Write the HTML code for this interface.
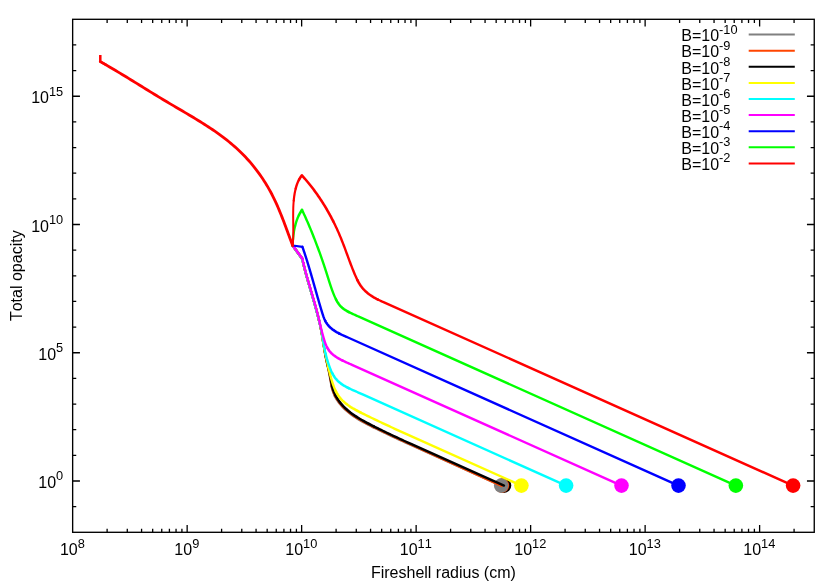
<!DOCTYPE html>
<html lang="en"><head><meta charset="utf-8"><title>Total opacity vs fireshell radius</title>
<style>html,body{margin:0;padding:0;background:#fff}body{width:830px;height:581px;overflow:hidden}svg{display:block;will-change:transform}text{font-family:"Liberation Sans",sans-serif;fill:#000;font-kerning:none}</style></head><body>
<svg width="830" height="581" viewBox="0 0 830 581">
<rect width="830" height="581" fill="#fff"/>
<path d="M107.12,532.3v-3.6M107.12,19.3v3.6M127.28,532.3v-3.6M127.28,19.3v3.6M141.58,532.3v-3.6M141.58,19.3v3.6M152.68,532.3v-3.6M152.68,19.3v3.6M161.74,532.3v-3.6M161.74,19.3v3.6M169.41,532.3v-3.6M169.41,19.3v3.6M176.05,532.3v-3.6M176.05,19.3v3.6M181.91,532.3v-3.6M181.91,19.3v3.6M187.15,532.3v-7.3M187.15,19.3v7.3M221.61,532.3v-3.6M221.61,19.3v3.6M241.77,532.3v-3.6M241.77,19.3v3.6M256.08,532.3v-3.6M256.08,19.3v3.6M267.17,532.3v-3.6M267.17,19.3v3.6M276.24,532.3v-3.6M276.24,19.3v3.6M283.91,532.3v-3.6M283.91,19.3v3.6M290.54,532.3v-3.6M290.54,19.3v3.6M296.40,532.3v-3.6M296.40,19.3v3.6M301.64,532.3v-7.3M301.64,19.3v7.3M336.11,532.3v-3.6M336.11,19.3v3.6M356.27,532.3v-3.6M356.27,19.3v3.6M370.57,532.3v-3.6M370.57,19.3v3.6M381.67,532.3v-3.6M381.67,19.3v3.6M390.74,532.3v-3.6M390.74,19.3v3.6M398.40,532.3v-3.6M398.40,19.3v3.6M405.04,532.3v-3.6M405.04,19.3v3.6M410.90,532.3v-3.6M410.90,19.3v3.6M416.14,532.3v-7.3M416.14,19.3v7.3M450.60,532.3v-3.6M450.60,19.3v3.6M470.76,532.3v-3.6M470.76,19.3v3.6M485.07,532.3v-3.6M485.07,19.3v3.6M496.16,532.3v-3.6M496.16,19.3v3.6M505.23,532.3v-3.6M505.23,19.3v3.6M512.90,532.3v-3.6M512.90,19.3v3.6M519.54,532.3v-3.6M519.54,19.3v3.6M525.39,532.3v-3.6M525.39,19.3v3.6M530.63,532.3v-7.3M530.63,19.3v7.3M565.10,532.3v-3.6M565.10,19.3v3.6M585.26,532.3v-3.6M585.26,19.3v3.6M599.56,532.3v-3.6M599.56,19.3v3.6M610.66,532.3v-3.6M610.66,19.3v3.6M619.73,532.3v-3.6M619.73,19.3v3.6M627.39,532.3v-3.6M627.39,19.3v3.6M634.03,532.3v-3.6M634.03,19.3v3.6M639.89,532.3v-3.6M639.89,19.3v3.6M645.13,532.3v-7.3M645.13,19.3v7.3M679.59,532.3v-3.6M679.59,19.3v3.6M699.75,532.3v-3.6M699.75,19.3v3.6M714.06,532.3v-3.6M714.06,19.3v3.6M725.16,532.3v-3.6M725.16,19.3v3.6M734.22,532.3v-3.6M734.22,19.3v3.6M741.89,532.3v-3.6M741.89,19.3v3.6M748.53,532.3v-3.6M748.53,19.3v3.6M754.38,532.3v-3.6M754.38,19.3v3.6M759.62,532.3v-7.3M759.62,19.3v7.3M794.09,532.3v-3.6M794.09,19.3v3.6M72.65,506.65h3.6M814.25,506.65h-3.6M72.65,481.00h7.3M814.25,481.00h-7.3M72.65,455.35h3.6M814.25,455.35h-3.6M72.65,429.70h3.6M814.25,429.70h-3.6M72.65,404.05h3.6M814.25,404.05h-3.6M72.65,378.40h3.6M814.25,378.40h-3.6M72.65,352.75h7.3M814.25,352.75h-7.3M72.65,327.10h3.6M814.25,327.10h-3.6M72.65,301.45h3.6M814.25,301.45h-3.6M72.65,275.80h3.6M814.25,275.80h-3.6M72.65,250.15h3.6M814.25,250.15h-3.6M72.65,224.50h7.3M814.25,224.50h-7.3M72.65,198.85h3.6M814.25,198.85h-3.6M72.65,173.20h3.6M814.25,173.20h-3.6M72.65,147.55h3.6M814.25,147.55h-3.6M72.65,121.90h3.6M814.25,121.90h-3.6M72.65,96.25h7.3M814.25,96.25h-7.3M72.65,70.60h3.6M814.25,70.60h-3.6M72.65,44.95h3.6M814.25,44.95h-3.6" stroke="#000" stroke-width="1.3" fill="none"/>
<g>
<circle cx="793.1" cy="485.6" r="7.3" fill="#ff0000"/>
<circle cx="735.85" cy="485.6" r="7.3" fill="#00ff00"/>
<circle cx="678.5" cy="485.6" r="7.3" fill="#0000ff"/>
<circle cx="621.5" cy="485.6" r="7.3" fill="#ff00ff"/>
<circle cx="566.1" cy="485.6" r="7.3" fill="#00ffff"/>
<circle cx="521.4" cy="485.6" r="7.3" fill="#ffff00"/>
<circle cx="504.0" cy="485.6" r="7.3" fill="#000000"/>
<circle cx="501.9" cy="485.6" r="7.3" fill="#ff4500"/>
<circle cx="501.2" cy="485.6" r="7.3" fill="#808080"/>
</g>
<g fill="none" stroke-linejoin="round" stroke-linecap="round">
<path stroke="#808080" stroke-width="2.6" d="M292.65,245.50 L302.20,258.70"/>
<path stroke="#808080" stroke-width="2.2" d="M302.20,258.70 L302.63,260.60 L303.07,262.50"/>
<path stroke="#808080" stroke-width="2.4" d="M303.07,262.50 L303.52,264.40 L303.99,266.29 L304.47,268.18 L304.96,270.07 L305.46,271.96 L305.97,273.84 L306.49,275.72 L307.01,277.60 L307.54,279.48 L308.08,281.36 L308.62,283.24 L309.17,285.11 L309.72,286.99 L310.27,288.86 L310.82,290.73 L311.37,292.61 L311.93,294.48 L312.48,296.35 L313.03,298.23 L313.57,300.10 L314.11,301.98 L314.65,303.85 L315.18,305.73 L315.70,307.61 L316.22,309.49 L316.72,311.37 L317.22,313.26 L317.71,315.15 L318.18,317.04 L318.65,318.93 L319.10,320.82"/>
<path stroke="#808080" stroke-width="2.2" d="M319.10,320.82 L319.54,322.72 L319.96,324.62 L320.36,326.53 L320.75,328.43 L321.13,330.35 L321.48,332.26 L321.82,334.18 L322.15,336.10 L322.47,338.03 L322.79,339.95 L323.10,341.88 L323.41,343.80 L323.72,345.73 L324.04,347.65 L324.37,349.58 L324.69,351.52 L325.02,353.47 L325.36,355.42 L325.73,357.37 L326.11,359.30 L326.52,361.24 L326.95,363.17 L327.39,365.09 L327.83,367.02 L328.25,368.96 L328.66,370.90 L329.05,372.84 L329.43,374.79 L329.79,376.75 L330.14,378.71 L330.48,380.67 L330.82,382.64 L331.18,384.60 L331.59,386.55"/>
<path stroke="#808080" stroke-width="2.4" d="M331.59,386.55 L332.05,388.47 L332.60,390.37 L333.24,392.23 L333.98,394.06 L334.80,395.85"/>
<path stroke="#808080" stroke-width="2.6" d="M334.80,395.85 L335.73,397.56 L336.73,399.23 L337.80,400.86 L338.93,402.44 L340.13,403.97 L341.38,405.44 L342.68,406.87 L344.02,408.25 L345.41,409.58 L346.85,410.86 L348.32,412.10 L349.83,413.31 L351.38,414.47 L352.96,415.60 L354.57,416.70 L356.20,417.76 L357.86,418.80 L359.54,419.81 L361.24,420.80 L362.96,421.77 L364.68,422.72 L366.43,423.65 L368.17,424.56 L369.93,425.47 L371.69,426.36 L373.45,427.25"/>
<path stroke="#808080" stroke-width="2.4" d="M373.45,427.25 L375.21,428.13 L376.97,429.00 L378.73,429.87 L380.49,430.73 L382.25,431.58 L384.01,432.43 L385.77,433.28 L387.53,434.12 L389.29,434.96 L391.05,435.79 L392.81,436.62 L394.57,437.44 L396.34,438.26 L398.10,439.08 L399.87,439.90 L401.64,440.71 L403.41,441.52 L405.18,442.32 L406.95,443.13 L408.72,443.93 L410.49,444.73 L501.20,485.60"/>
<path stroke="#ff4500" stroke-width="2.6" d="M292.65,245.50 L302.20,258.70"/>
<path stroke="#ff4500" stroke-width="2.2" d="M302.20,258.70 L302.63,260.60 L303.07,262.50"/>
<path stroke="#ff4500" stroke-width="2.4" d="M303.07,262.50 L303.52,264.40 L303.99,266.29 L304.47,268.18 L304.96,270.07 L305.46,271.96 L305.97,273.84 L306.49,275.72 L307.01,277.60 L307.54,279.48 L308.08,281.36 L308.62,283.24 L309.17,285.11 L309.72,286.99 L310.27,288.86 L310.82,290.73 L311.37,292.61 L311.93,294.48 L312.48,296.35 L313.03,298.23 L313.57,300.10 L314.11,301.98 L314.65,303.85 L315.18,305.73 L315.70,307.61 L316.22,309.49 L316.72,311.37 L317.22,313.26 L317.71,315.15 L318.18,317.04 L318.65,318.93 L319.10,320.82"/>
<path stroke="#ff4500" stroke-width="2.2" d="M319.10,320.82 L319.54,322.72 L319.96,324.62 L320.36,326.53 L320.75,328.43 L321.13,330.35 L321.48,332.26 L321.82,334.18 L322.15,336.10 L322.47,338.03 L322.79,339.95 L323.10,341.88 L323.41,343.80 L323.72,345.73 L324.04,347.65 L324.37,349.58 L324.70,351.51 L325.04,353.45 L325.39,355.38 L325.77,357.31 L326.16,359.23 L326.58,361.15 L327.02,363.07 L327.47,364.98 L327.92,366.89 L328.36,368.81 L328.77,370.74 L329.18,372.67 L329.56,374.60 L329.94,376.54 L330.30,378.49 L330.64,380.44 L331.00,382.39 L331.37,384.34 L331.79,386.27"/>
<path stroke="#ff4500" stroke-width="2.4" d="M331.79,386.27 L332.26,388.18 L332.82,390.06 L333.48,391.91 L334.22,393.72 L335.05,395.50"/>
<path stroke="#ff4500" stroke-width="2.6" d="M335.05,395.50 L335.98,397.21 L336.98,398.88 L338.05,400.51 L339.18,402.09 L340.38,403.62 L341.63,405.09 L342.93,406.52 L344.27,407.90 L345.66,409.23 L347.10,410.51 L348.57,411.75 L350.08,412.96 L351.63,414.12 L353.21,415.25 L354.82,416.35 L356.45,417.41 L358.11,418.45 L359.79,419.46 L361.49,420.45 L363.21,421.42 L364.93,422.37 L366.68,423.30 L368.42,424.21 L370.18,425.12 L371.94,426.01 L373.70,426.90"/>
<path stroke="#ff4500" stroke-width="2.4" d="M373.70,426.90 L375.46,427.78 L377.22,428.65 L378.98,429.52 L380.74,430.38 L382.50,431.23 L384.26,432.08 L386.02,432.93 L387.78,433.77 L389.54,434.61 L391.30,435.44 L393.06,436.27 L394.82,437.09 L396.59,437.91 L398.35,438.73 L400.12,439.55 L401.89,440.36 L403.66,441.17 L405.43,441.97 L407.20,442.78 L408.97,443.58 L410.74,444.38 L501.70,486.00"/>
<path stroke="#000000" stroke-width="2.6" d="M292.65,245.50 L302.20,258.70"/>
<path stroke="#000000" stroke-width="2.2" d="M302.20,258.70 L302.63,260.60 L303.07,262.50"/>
<path stroke="#000000" stroke-width="2.4" d="M303.07,262.50 L303.52,264.40 L303.99,266.29 L304.47,268.18 L304.96,270.07 L305.46,271.96 L305.97,273.84 L306.49,275.72 L307.01,277.60 L307.54,279.48 L308.08,281.36 L308.62,283.24 L309.17,285.11 L309.72,286.99 L310.27,288.86 L310.82,290.73 L311.37,292.61 L311.93,294.48 L312.48,296.35 L313.03,298.23 L313.57,300.10 L314.11,301.98 L314.65,303.85 L315.18,305.73 L315.70,307.61 L316.22,309.49 L316.72,311.37 L317.22,313.26 L317.71,315.15 L318.18,317.04 L318.65,318.93 L319.10,320.82"/>
<path stroke="#000000" stroke-width="2.2" d="M319.10,320.82 L319.54,322.72 L319.96,324.62 L320.36,326.53 L320.75,328.43 L321.13,330.35 L321.48,332.26 L321.82,334.18 L322.15,336.10 L322.47,338.03 L322.79,339.95 L323.10,341.88 L323.41,343.80 L323.72,345.73 L324.04,347.65 L324.37,349.58 L324.71,351.50 L325.06,353.41 L325.42,355.33 L325.81,357.24 L326.21,359.14 L326.64,361.04 L327.09,362.94"/>
<path stroke="#000000" stroke-width="2.4" d="M327.09,362.94 L327.55,364.83 L328.01,366.73"/>
<path stroke="#000000" stroke-width="2.2" d="M328.01,366.73 L328.46,368.63 L328.89,370.53 L329.30,372.44 L329.70,374.36 L330.08,376.28 L330.45,378.21 L330.81,380.14 L331.17,382.07 L331.56,384.00 L331.99,385.91"/>
<path stroke="#000000" stroke-width="2.4" d="M331.99,385.91 L332.47,387.80 L333.04,389.66 L333.71,391.49 L334.46,393.29 L335.30,395.05"/>
<path stroke="#000000" stroke-width="2.6" d="M335.30,395.05 L336.23,396.76 L337.23,398.43 L338.30,400.06 L339.43,401.64 L340.63,403.17 L341.88,404.64 L343.18,406.07 L344.52,407.45 L345.91,408.78 L347.35,410.06 L348.82,411.30 L350.33,412.51 L351.88,413.67 L353.46,414.80 L355.07,415.90 L356.70,416.96 L358.36,418.00 L360.04,419.01 L361.74,420.00 L363.46,420.97 L365.18,421.92 L366.93,422.85 L368.67,423.76 L370.43,424.67 L372.19,425.56 L373.95,426.45"/>
<path stroke="#000000" stroke-width="2.4" d="M373.95,426.45 L375.71,427.33 L377.47,428.20 L379.23,429.07 L380.99,429.93 L382.75,430.78 L384.51,431.63 L386.27,432.48 L388.03,433.32 L389.79,434.16 L391.55,434.99 L393.31,435.82 L395.07,436.64 L396.84,437.46 L398.60,438.28 L400.37,439.10 L402.14,439.91 L403.91,440.72 L405.68,441.52 L407.45,442.33 L409.22,443.13 L410.99,443.93 L504.00,485.60"/>
<path stroke="#ffff00" stroke-width="2.6" d="M292.65,245.50 L302.20,258.70"/>
<path stroke="#ffff00" stroke-width="2.2" d="M302.20,258.70 L302.61,260.51 L303.03,262.31"/>
<path stroke="#ffff00" stroke-width="2.4" d="M303.03,262.31 L303.46,264.11 L303.90,265.91 L304.35,267.71 L304.81,269.50 L305.28,271.29 L305.76,273.08 L306.25,274.87 L306.74,276.66 L307.24,278.44 L307.75,280.23 L308.26,282.01 L308.77,283.79 L309.29,285.57 L309.81,287.35 L310.33,289.13 L310.85,290.91 L311.38,292.69 L311.90,294.47 L312.43,296.25 L312.95,298.03 L313.47,299.81 L313.98,301.59 L314.50,303.37 L315.00,305.15 L315.51,306.93 L316.01,308.72 L316.50,310.50 L316.98,312.29 L317.46,314.08 L317.93,315.87 L318.38,317.66 L318.83,319.46 L319.26,321.25"/>
<path stroke="#ffff00" stroke-width="2.2" d="M319.26,321.25 L319.68,323.06 L320.08,324.86 L320.46,326.67 L320.82,328.49 L321.16,330.31 L321.47,332.13 L321.77,333.96 L322.06,335.80 L322.34,337.63 L322.62,339.46 L322.90,341.30 L323.20,343.13 L323.51,344.96 L323.84,346.78 L324.18,348.60 L324.53,350.42 L324.90,352.24 L325.27,354.05 L325.66,355.85 L326.05,357.66 L326.45,359.46 L326.85,361.25 L327.26,363.05 L327.67,364.84 L328.10,366.63"/>
<path stroke="#ffff00" stroke-width="2.4" d="M328.10,366.63 L328.53,368.42 L328.97,370.21 L329.43,372.00 L329.90,373.80 L330.38,375.60 L330.88,377.40 L331.40,379.21 L331.94,381.03 L332.51,382.84 L333.12,384.64 L333.76,386.42 L334.45,388.17 L335.19,389.88 L335.98,391.56"/>
<path stroke="#ffff00" stroke-width="2.6" d="M335.98,391.56 L336.84,393.18 L337.77,394.75 L338.78,396.25 L339.86,397.68 L341.02,399.05 L342.25,400.35 L343.54,401.59 L344.89,402.78 L346.29,403.91 L347.75,405.00 L349.25,406.05 L350.79,407.06 L352.37,408.03 L353.98,408.97 L355.61,409.88 L357.27,410.77 L358.94,411.64 L360.62,412.49"/>
<path stroke="#ffff00" stroke-width="2.4" d="M360.62,412.49 L362.31,413.34 L364.00,414.17 L365.69,415.00 L367.37,415.83 L369.06,416.65 L370.74,417.47 L372.42,418.28 L374.10,419.09 L375.78,419.89 L377.46,420.69 L379.14,421.49 L380.82,422.29 L382.49,423.08 L384.17,423.87 L385.84,424.65 L387.52,425.43 L389.20,426.21 L390.87,426.99 L392.55,427.76 L394.23,428.54 L395.91,429.31 L397.58,430.08 L399.26,430.84 L400.94,431.61 L402.63,432.37 L404.31,433.14 L405.99,433.89 L521.40,485.60"/>
<path stroke="#00ffff" stroke-width="2.6" d="M292.65,245.50 L302.20,258.70"/>
<path stroke="#00ffff" stroke-width="2.2" d="M302.20,258.70 L302.50,259.99 L302.80,261.27"/>
<path stroke="#00ffff" stroke-width="2.4" d="M302.80,261.27 L303.11,262.56 L303.43,263.84 L303.74,265.12 L304.06,266.41 L304.39,267.69 L304.72,268.96 L305.05,270.24 L305.39,271.52 L305.73,272.79 L306.07,274.07 L306.42,275.34 L306.77,276.62 L307.12,277.89 L307.47,279.16 L307.83,280.43 L308.18,281.70 L308.54,282.97 L308.91,284.24 L309.27,285.51 L309.63,286.78 L310.00,288.05 L310.36,289.32 L310.73,290.59 L311.09,291.86 L311.46,293.13 L311.83,294.40 L312.20,295.66 L312.56,296.93 L312.93,298.20 L313.30,299.47 L313.66,300.74 L314.03,302.01 L314.39,303.28 L314.75,304.55 L315.11,305.82 L315.47,307.09 L315.83,308.37 L316.18,309.64 L316.53,310.91 L316.88,312.19 L317.23,313.46 L317.58,314.74 L317.92,316.02 L318.25,317.30 L318.59,318.58 L318.92,319.86 L319.24,321.14 L319.55,322.42 L319.86,323.71"/>
<path stroke="#00ffff" stroke-width="2.2" d="M319.86,323.71 L320.16,324.99 L320.45,326.28 L320.73,327.57 L321.00,328.86 L321.25,330.15 L321.50,331.44 L321.73,332.73 L321.96,334.03 L322.18,335.32 L322.40,336.62 L322.61,337.92 L322.82,339.21 L323.04,340.51 L323.26,341.81 L323.48,343.11 L323.71,344.41 L323.95,345.71 L324.19,347.01 L324.45,348.30 L324.71,349.60 L324.98,350.89 L325.27,352.18 L325.56,353.48"/>
<path stroke="#00ffff" stroke-width="2.4" d="M325.56,353.48 L325.87,354.76 L326.19,356.05 L326.53,357.33 L326.87,358.61 L327.24,359.88 L327.62,361.16 L328.01,362.42 L328.42,363.69 L328.85,364.94 L329.30,366.20 L329.77,367.44 L330.26,368.68 L330.77,369.92 L331.30,371.14 L331.86,372.35 L332.45,373.53"/>
<path stroke="#00ffff" stroke-width="2.6" d="M332.45,373.53 L333.08,374.69 L333.75,375.82 L334.45,376.92 L335.20,377.97 L336.00,378.97 L336.85,379.93 L337.75,380.85 L338.69,381.72 L339.66,382.55 L340.68,383.35 L341.73,384.11 L342.81,384.84 L343.92,385.54 L345.05,386.21 L346.21,386.86 L347.38,387.48 L348.58,388.09"/>
<path stroke="#00ffff" stroke-width="2.4" d="M348.58,388.09 L349.78,388.68 L351.00,389.25 L352.23,389.81 L353.46,390.37 L354.69,390.91 L355.93,391.45 L357.16,391.99 L358.38,392.53 L359.60,393.07 L360.81,393.61 L362.02,394.15 L363.23,394.70 L566.10,485.60"/>
<path stroke="#ff00ff" stroke-width="2.6" d="M292.65,245.50 L302.35,258.60"/>
<path stroke="#ff00ff" stroke-width="2.2" d="M302.35,258.60 L302.57,259.62 L302.80,260.63 L303.03,261.64 L303.27,262.65 L303.51,263.66"/>
<path stroke="#ff00ff" stroke-width="2.4" d="M303.51,263.66 L303.75,264.67 L304.00,265.68 L304.25,266.69 L304.50,267.69 L304.76,268.70 L305.02,269.70 L305.28,270.70 L305.55,271.71 L305.82,272.71 L306.09,273.71 L306.36,274.71 L306.64,275.71 L306.92,276.71 L307.20,277.70 L307.48,278.70 L307.77,279.70 L308.05,280.69 L308.34,281.69 L308.63,282.69 L308.92,283.68 L309.21,284.68 L309.51,285.67 L309.80,286.66 L310.09,287.66 L310.39,288.65 L310.68,289.65 L310.98,290.64 L311.27,291.63 L311.57,292.63 L311.86,293.62 L312.15,294.61 L312.45,295.61 L312.74,296.60 L313.03,297.59 L313.32,298.59 L313.61,299.58 L313.90,300.58 L314.19,301.57 L314.48,302.57 L314.76,303.57 L315.04,304.56 L315.32,305.56 L315.60,306.56 L315.88,307.55 L316.15,308.55 L316.42,309.55 L316.69,310.55 L316.96,311.55 L317.22,312.56 L317.48,313.56 L317.74,314.56 L317.99,315.57 L318.24,316.57 L318.49,317.58 L318.74,318.59 L318.98,319.59 L319.22,320.60 L319.46,321.61 L319.70,322.62 L319.94,323.63 L320.19,324.64 L320.43,325.65 L320.67,326.66 L320.92,327.67 L321.17,328.69 L321.42,329.70 L321.67,330.71 L321.93,331.72 L322.19,332.73 L322.46,333.74 L322.73,334.75 L323.01,335.77 L323.29,336.78 L323.58,337.79 L323.88,338.80 L324.18,339.80 L324.49,340.81 L324.82,341.81 L325.17,342.80 L325.53,343.78 L325.91,344.74 L326.31,345.70 L326.74,346.63 L327.20,347.54"/>
<path stroke="#ff00ff" stroke-width="2.6" d="M327.20,347.54 L327.69,348.43 L328.21,349.30 L328.77,350.14 L329.37,350.95 L330.00,351.73 L330.68,352.47 L331.39,353.19 L332.13,353.88 L332.90,354.55 L333.69,355.19 L334.52,355.80 L335.36,356.40 L336.22,356.97 L337.09,357.53 L337.98,358.07 L338.88,358.59 L339.79,359.09 L340.70,359.59 L341.63,360.07 L342.55,360.53"/>
<path stroke="#ff00ff" stroke-width="2.4" d="M342.55,360.53 L343.49,360.99 L344.42,361.44 L345.36,361.88 L346.31,362.32 L347.25,362.75 L348.20,363.17 L349.15,363.59 L350.10,364.01 L351.06,364.43 L352.01,364.85 L621.50,485.60"/>
<path stroke="#0000ff" stroke-width="2.2" d="M292.65,245.50 L302.40,246.80"/>
<path stroke="#0000ff" stroke-width="2.4" d="M302.40,246.80 L302.70,247.65 L302.99,248.49 L303.28,249.34 L303.57,250.19 L303.86,251.04 L304.14,251.88 L304.43,252.73 L304.71,253.58 L304.99,254.43 L305.27,255.27 L305.54,256.12 L305.81,256.97 L306.09,257.82 L306.36,258.67 L306.62,259.51 L306.89,260.36 L307.16,261.21 L307.42,262.06 L307.68,262.91 L307.94,263.76 L308.20,264.60 L308.46,265.45 L308.72,266.30 L308.97,267.15 L309.23,268.00 L309.48,268.85 L309.73,269.70 L309.98,270.55 L310.23,271.40 L310.48,272.25 L310.73,273.10 L310.98,273.95 L311.22,274.80 L311.47,275.65 L311.71,276.50 L311.96,277.35 L312.20,278.20 L312.45,279.06 L312.69,279.91 L312.93,280.76 L313.18,281.61 L313.42,282.46 L313.66,283.32 L313.90,284.17 L314.14,285.02 L314.38,285.87 L314.62,286.73 L314.87,287.58 L315.11,288.43 L315.35,289.29 L315.59,290.14 L315.83,291.00 L316.07,291.85 L316.32,292.70 L316.56,293.56 L316.80,294.42 L317.05,295.27 L317.29,296.13 L317.53,296.98 L317.78,297.84 L318.03,298.69 L318.27,299.55 L318.52,300.41 L318.77,301.27 L319.02,302.12 L319.27,302.98 L319.52,303.84 L319.77,304.70 L320.02,305.56 L320.28,306.41 L320.53,307.27 L320.79,308.13 L321.05,308.99 L321.31,309.85 L321.57,310.71 L321.83,311.57 L322.09,312.43 L322.36,313.29 L322.63,314.15 L322.90,315.01 L323.19,315.86 L323.48,316.71 L323.79,317.55 L324.12,318.37 L324.46,319.19 L324.83,320.00 L325.21,320.79"/>
<path stroke="#0000ff" stroke-width="2.6" d="M325.21,320.79 L325.63,321.57 L326.07,322.33 L326.53,323.07 L327.03,323.80 L327.56,324.50 L328.11,325.19 L328.68,325.85 L329.28,326.50 L329.90,327.12 L330.53,327.73 L331.19,328.31 L331.86,328.87 L332.55,329.41 L333.25,329.94 L333.97,330.44 L334.70,330.93 L335.44,331.40 L336.19,331.85 L336.95,332.30 L337.72,332.72 L338.50,333.14 L339.29,333.55"/>
<path stroke="#0000ff" stroke-width="2.4" d="M339.29,333.55 L340.09,333.94 L340.89,334.33 L341.69,334.71 L342.50,335.09 L343.32,335.45 L344.13,335.82 L344.95,336.18 L345.77,336.54 L346.59,336.90 L347.41,337.25 L678.50,485.60"/>
<path stroke="#00ff00" stroke-width="2.0" d="M292.65,245.50 L292.77,243.56 L292.90,241.62 L293.06,239.66"/>
<path stroke="#00ff00" stroke-width="2.2" d="M293.06,239.66 L293.24,237.71 L293.45,235.75 L293.70,233.79 L293.98,231.84 L294.31,229.89 L294.68,227.96 L295.11,226.04"/>
<path stroke="#00ff00" stroke-width="2.4" d="M295.11,226.04 L295.59,224.13 L296.13,222.25 L296.74,220.39 L297.42,218.56 L298.17,216.76 L299.00,214.99"/>
<path stroke="#00ff00" stroke-width="2.6" d="M299.00,214.99 L299.91,213.25 L300.91,211.55 L302.00,209.90"/>
<path stroke="#00ff00" stroke-width="2.4" d="M302.00,209.90 L302.46,210.85 L302.91,211.79 L303.36,212.74 L303.80,213.69 L304.24,214.65 L304.68,215.60 L305.12,216.56 L305.55,217.52 L305.98,218.48 L306.41,219.44 L306.84,220.40 L307.26,221.37 L307.68,222.33 L308.10,223.30 L308.51,224.27 L308.93,225.24 L309.34,226.21 L309.74,227.18 L310.15,228.16 L310.55,229.13 L310.95,230.11 L311.35,231.08 L311.75,232.06 L312.14,233.04 L312.54,234.02 L312.93,234.99 L313.32,235.97 L313.70,236.95 L314.09,237.94 L314.47,238.92 L314.85,239.90 L315.23,240.88 L315.61,241.86 L315.99,242.84 L316.36,243.83 L316.73,244.81 L317.10,245.80 L317.47,246.78 L317.84,247.77 L318.21,248.75 L318.57,249.74 L318.93,250.72 L319.29,251.71 L319.65,252.70 L320.01,253.69 L320.36,254.68 L320.71,255.67 L321.06,256.66 L321.41,257.65 L321.76,258.64 L322.11,259.63 L322.45,260.62 L322.79,261.62 L323.13,262.61 L323.47,263.61 L323.80,264.60 L324.14,265.60 L324.47,266.60 L324.80,267.60 L325.13,268.60 L325.45,269.60 L325.78,270.60 L326.10,271.60 L326.42,272.60 L326.74,273.61 L327.06,274.61 L327.37,275.62 L327.68,276.62 L328.00,277.63 L328.31,278.64 L328.62,279.64 L328.94,280.65 L329.25,281.66 L329.57,282.66 L329.90,283.67 L330.22,284.68 L330.55,285.68 L330.89,286.68 L331.23,287.68 L331.58,288.68 L331.93,289.68 L332.30,290.68 L332.67,291.67 L333.05,292.66 L333.44,293.65 L333.84,294.64 L334.25,295.62 L334.67,296.60 L335.11,297.57 L335.57,298.53 L336.04,299.48"/>
<path stroke="#00ff00" stroke-width="2.6" d="M336.04,299.48 L336.53,300.42 L337.04,301.34 L337.58,302.23 L338.15,303.11 L338.74,303.96 L339.36,304.78 L340.02,305.57 L340.71,306.33 L341.44,307.05 L342.20,307.73 L342.99,308.39 L343.81,309.01 L344.66,309.61 L345.53,310.18 L346.42,310.73 L347.33,311.25 L348.26,311.76 L349.20,312.25"/>
<path stroke="#00ff00" stroke-width="2.4" d="M349.20,312.25 L350.15,312.73 L351.10,313.19 L352.06,313.64 L353.03,314.09 L353.99,314.52 L354.95,314.96 L355.92,315.39 L356.88,315.81 L357.84,316.24 L358.80,316.66 L735.85,485.60"/>
<path stroke="#ff0000" stroke-width="2.8" d="M100.30,61.60 L102.52,62.86 L104.72,64.13 L106.92,65.40 L109.12,66.68 L111.30,67.96 L113.48,69.25 L115.65,70.55 L117.82,71.85 L119.99,73.15 L122.14,74.45 L124.30,75.76 L126.45,77.07 L128.60,78.39 L130.74,79.70 L132.88,81.02 L135.03,82.34 L137.17,83.66 L139.30,84.98 L141.44,86.30 L143.58,87.62 L145.72,88.94 L147.86,90.26 L150.00,91.58 L152.14,92.90 L154.29,94.22 L156.44,95.53 L158.59,96.84 L160.75,98.15 L162.91,99.45 L165.07,100.75 L167.24,102.05 L169.42,103.34 L171.60,104.63 L173.78,105.92 L175.97,107.20 L178.16,108.49 L180.35,109.77 L182.54,111.06 L184.73,112.35 L186.92,113.64 L189.11,114.93 L191.29,116.24 L193.47,117.54 L195.64,118.86 L197.81,120.18 L199.97,121.51 L202.12,122.86 L204.27,124.21 L206.40,125.58 L208.52,126.96 L210.63,128.36 L212.73,129.77 L214.81,131.19 L216.88,132.64 L218.93,134.10 L220.97,135.58 L222.99,137.09 L224.99,138.61 L226.97,140.16 L228.93,141.73 L230.87,143.32 L232.78,144.95 L234.68,146.59 L236.55,148.27 L238.39,149.97 L240.21,151.71 L242.00,153.47 L243.76,155.26 L245.50,157.08 L247.21,158.93 L248.89,160.80 L250.55,162.70 L252.17,164.63 L253.77,166.58 L255.33,168.56 L256.87,170.56 L258.38,172.59 L259.85,174.64 L261.30,176.71 L262.72,178.80 L264.10,180.92 L265.45,183.05 L266.77,185.21 L268.06,187.38 L269.31,189.58 L270.53,191.79 L271.72,194.03 L272.87,196.28 L273.99,198.54 L275.08,200.82 L276.15,203.12 L277.18,205.43 L278.19,207.75 L279.18,210.08 L280.14,212.42 L281.09,214.77 L282.02,217.12 L282.94,219.49 L283.84,221.85 L284.74,224.22 L285.62,226.59 L286.50,228.97 L287.38,231.34 L288.25,233.71 L289.12,236.08 L290.00,238.44 L290.87,240.80 L291.76,243.15 L292.65,245.50"/>
<path stroke="#ff0000" stroke-width="2.5" stroke-linecap="butt" stroke-linejoin="miter" d="M100.30,55.00 L100.30,61.60 L106.92,65.40"/>
<path stroke="#ff0000" stroke-width="2.2" d="M292.65,245.50 L292.87,243.11"/>
<path stroke="#ff0000" stroke-width="2.0" d="M292.87,243.11 L293.04,240.69 L293.16,238.25 L293.23,235.79 L293.28,233.31 L293.29,230.82 L293.28,228.32 L293.26,225.80 L293.24,223.28 L293.21,220.75 L293.18,218.22 L293.17,215.69 L293.18,213.16 L293.21,210.64 L293.27,208.12 L293.37,205.62 L293.52,203.12 L293.72,200.64"/>
<path stroke="#ff0000" stroke-width="2.2" d="M293.72,200.64 L293.97,198.17 L294.30,195.72 L294.69,193.30 L295.16,190.90 L295.72,188.52"/>
<path stroke="#ff0000" stroke-width="2.4" d="M295.72,188.52 L296.37,186.17 L297.14,183.87 L298.05,181.63 L299.13,179.46"/>
<path stroke="#ff0000" stroke-width="2.6" d="M299.13,179.46 L300.41,177.38 L301.90,175.40 L302.77,176.36 L303.63,177.32 L304.49,178.29 L305.34,179.26 L306.18,180.24 L307.02,181.23 L307.85,182.22 L308.67,183.22 L309.48,184.23 L310.29,185.24 L311.10,186.26 L311.89,187.28 L312.68,188.31 L313.46,189.34 L314.24,190.38 L315.01,191.42 L315.77,192.47 L316.53,193.53 L317.28,194.58 L318.02,195.65 L318.76,196.72 L319.49,197.79 L320.21,198.87 L320.92,199.95 L321.63,201.04 L322.34,202.14 L323.03,203.23 L323.72,204.33 L324.40,205.44 L325.08,206.55 L325.75,207.66 L326.41,208.78 L327.06,209.90 L327.71,211.03 L328.36,212.16 L328.99,213.29 L329.62,214.43 L330.24,215.57 L330.86,216.72 L331.46,217.87 L332.07,219.02 L332.66,220.17 L333.25,221.33"/>
<path stroke="#ff0000" stroke-width="2.4" d="M333.25,221.33 L333.83,222.49 L334.41,223.65 L334.97,224.82 L335.54,225.99 L336.09,227.16 L336.64,228.34 L337.18,229.52 L337.71,230.70 L338.24,231.88 L338.76,233.07 L339.28,234.25 L339.78,235.45 L340.28,236.64 L340.78,237.83 L341.26,239.03 L341.74,240.23 L342.22,241.43 L342.69,242.63 L343.16,243.83 L343.62,245.04 L344.08,246.25 L344.53,247.45 L344.99,248.66 L345.44,249.87 L345.89,251.09 L346.33,252.30 L346.78,253.51 L347.23,254.73 L347.67,255.94 L348.12,257.16 L348.57,258.37 L349.02,259.59 L349.47,260.81 L349.93,262.02 L350.38,263.24 L350.85,264.46 L351.31,265.67 L351.78,266.89 L352.26,268.11 L352.74,269.32 L353.22,270.54 L353.72,271.76 L354.22,272.97 L354.72,274.18 L355.24,275.39 L355.77,276.60 L356.31,277.80 L356.87,278.99 L357.45,280.17"/>
<path stroke="#ff0000" stroke-width="2.6" d="M357.45,280.17 L358.05,281.32 L358.67,282.47 L359.33,283.58 L360.01,284.68 L360.73,285.75 L361.49,286.78 L362.28,287.79 L363.11,288.76 L363.97,289.70 L364.87,290.61 L365.80,291.49 L366.76,292.35 L367.75,293.17 L368.76,293.96 L369.80,294.73 L370.86,295.47 L371.94,296.19 L373.04,296.88 L374.15,297.54 L375.29,298.18 L376.43,298.80 L377.59,299.39"/>
<path stroke="#ff0000" stroke-width="2.4" d="M377.59,299.39 L378.76,299.97 L379.93,300.52 L381.11,301.07 L382.30,301.60 L383.48,302.07 L793.10,485.60"/>
</g>
<rect x="72.65" y="19.3" width="741.60" height="513.00" fill="none" stroke="#000" stroke-width="1.35"/>
<g>
<text x="681.3" y="41.3" font-size="16">B=10<tspan dy="-7.6" font-size="12.8">-10</tspan></text>
<path d="M748.7,34.6H794.8" stroke="#808080" stroke-width="2"/>
<text x="681.3" y="57.4" font-size="16">B=10<tspan dy="-7.6" font-size="12.8">-9</tspan></text>
<path d="M748.7,50.7H794.8" stroke="#ff4500" stroke-width="2"/>
<text x="681.3" y="73.5" font-size="16">B=10<tspan dy="-7.6" font-size="12.8">-8</tspan></text>
<path d="M748.7,66.8H794.8" stroke="#000000" stroke-width="2"/>
<text x="681.3" y="89.5" font-size="16">B=10<tspan dy="-7.6" font-size="12.8">-7</tspan></text>
<path d="M748.7,82.9H794.8" stroke="#ffff00" stroke-width="2"/>
<text x="681.3" y="105.6" font-size="16">B=10<tspan dy="-7.6" font-size="12.8">-6</tspan></text>
<path d="M748.7,99.0H794.8" stroke="#00ffff" stroke-width="2"/>
<text x="681.3" y="121.7" font-size="16">B=10<tspan dy="-7.6" font-size="12.8">-5</tspan></text>
<path d="M748.7,115.1H794.8" stroke="#ff00ff" stroke-width="2"/>
<text x="681.3" y="137.8" font-size="16">B=10<tspan dy="-7.6" font-size="12.8">-4</tspan></text>
<path d="M748.7,131.2H794.8" stroke="#0000ff" stroke-width="2"/>
<text x="681.3" y="153.9" font-size="16">B=10<tspan dy="-7.6" font-size="12.8">-3</tspan></text>
<path d="M748.7,147.3H794.8" stroke="#00ff00" stroke-width="2"/>
<text x="681.3" y="169.9" font-size="16">B=10<tspan dy="-7.6" font-size="12.8">-2</tspan></text>
<path d="M748.7,163.4H794.8" stroke="#ff0000" stroke-width="2"/>
</g>
<g>
<text x="72.4" y="555.4" font-size="16" text-anchor="middle">10<tspan dy="-7.6" font-size="12.8">8</tspan></text>
<text x="186.8" y="555.4" font-size="16" text-anchor="middle">10<tspan dy="-7.6" font-size="12.8">9</tspan></text>
<text x="301.3" y="555.4" font-size="16" text-anchor="middle">10<tspan dy="-7.6" font-size="12.8">10</tspan></text>
<text x="415.8" y="555.4" font-size="16" text-anchor="middle">10<tspan dy="-7.6" font-size="12.8">11</tspan></text>
<text x="530.3" y="555.4" font-size="16" text-anchor="middle">10<tspan dy="-7.6" font-size="12.8">12</tspan></text>
<text x="644.8" y="555.4" font-size="16" text-anchor="middle">10<tspan dy="-7.6" font-size="12.8">13</tspan></text>
<text x="759.3" y="555.4" font-size="16" text-anchor="middle">10<tspan dy="-7.6" font-size="12.8">14</tspan></text>
<text x="63.2" y="488.0" font-size="16" text-anchor="end">10<tspan dy="-7.6" font-size="12.8">0</tspan></text>
<text x="63.2" y="359.8" font-size="16" text-anchor="end">10<tspan dy="-7.6" font-size="12.8">5</tspan></text>
<text x="63.2" y="231.5" font-size="16" text-anchor="end">10<tspan dy="-7.6" font-size="12.8">10</tspan></text>
<text x="63.2" y="103.2" font-size="16" text-anchor="end">10<tspan dy="-7.6" font-size="12.8">15</tspan></text>
</g>
<text x="443.4" y="578" font-size="16" text-anchor="middle">Fireshell radius (cm)</text>
<text transform="translate(22,275.7) rotate(-90)" font-size="16" text-anchor="middle">Total opacity</text>
</svg></body></html>
